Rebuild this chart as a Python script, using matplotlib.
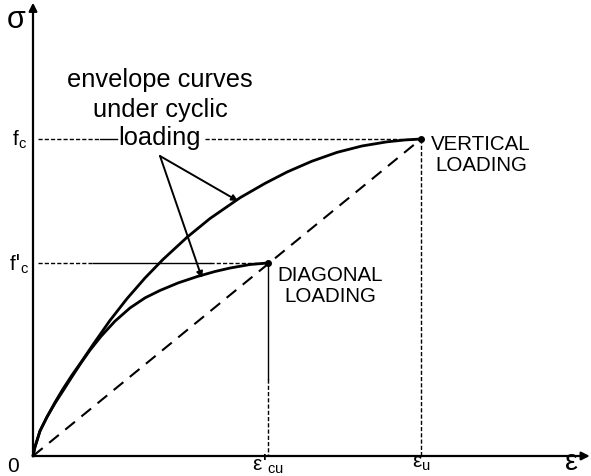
import matplotlib
matplotlib.use("Agg")
import matplotlib.pyplot as plt
import numpy as np

plt.rcParams['font.family'] = ['Liberation Sans', 'DejaVu Sans']

# characteristic values (normalised: eps_u = 1, f_c = 1)
eps_u = 1.0
eps_cu = 0.606
f_c = 1.0
f_cp = 0.609

# envelope curve, vertical loading
vert_eps = [0.0, 0.005, 0.018, 0.036, 0.057, 0.077, 0.101, 0.124, 0.155, 0.198, 0.242, 0.289,
            0.335, 0.397, 0.456, 0.534, 0.598, 0.655, 0.719, 0.784, 0.848, 0.912, 0.959, 1.0]
vert_sig = [0.0, 0.028, 0.079, 0.123, 0.170, 0.211, 0.256, 0.296, 0.352, 0.427, 0.496, 0.562,
            0.620, 0.690, 0.749, 0.815, 0.860, 0.896, 0.930, 0.958, 0.978, 0.991, 0.997, 1.0]
# envelope curve, diagonal loading
diag_eps = [0.0, 0.005, 0.018, 0.036, 0.057, 0.077, 0.101, 0.124, 0.147, 0.175, 0.211, 0.250,
            0.289, 0.327, 0.374, 0.423, 0.469, 0.508, 0.559, 0.606]
diag_sig = [0.0, 0.028, 0.079, 0.123, 0.167, 0.205, 0.251, 0.294, 0.334, 0.377, 0.425, 0.467,
            0.499, 0.522, 0.546, 0.566, 0.582, 0.593, 0.604, 0.609]

fig = plt.figure(figsize=(5.91, 4.77), dpi=100)
ax = fig.add_axes([0, 0, 1, 1])
ax.set_xlim(-33/388, (591-33)/388)
ax.set_ylim(-(477-457)/317, 457/317)
ax.axis('off')

k = 'black'
# axes with arrows
ax.annotate('', xy=(1.435, 0), xytext=(0, 0),
            arrowprops=dict(arrowstyle='-|>', color=k, lw=1.6, mutation_scale=12, shrinkA=0, shrinkB=0))
ax.annotate('', xy=(0, 1.43), xytext=(0, 0),
            arrowprops=dict(arrowstyle='-|>', color=k, lw=1.6, mutation_scale=12, shrinkA=0, shrinkB=0))

# curves
ax.plot(vert_eps, vert_sig, color=k, lw=2.0, solid_capstyle='round', solid_joinstyle='round')
ax.plot(diag_eps, diag_sig, color=k, lw=2.0, solid_capstyle='round', solid_joinstyle='round')
ax.plot([eps_u, eps_cu], [f_c, f_cp], 'o', color=k, ms=4)

# secant dashed line
ax.plot([0, eps_u], [0, f_c], color=k, lw=1.5, dashes=(6, 4))

# horizontal guide at f_c
x_txt_l = (100-33)/388
x_sol_e = (117-33)/388
x_txt_r = (205-33)/388
ax.plot([0.013, x_txt_l], [f_c, f_c], color=k, lw=1.0, dashes=(3, 1.5))
ax.plot([x_txt_l, x_sol_e], [f_c, f_c], color=k, lw=1.0)
ax.plot([x_txt_r, eps_u], [f_c, f_c], color=k, lw=1.0, dashes=(3, 1.5))
# horizontal guide at f'_c
x1 = (93-33)/388
x2 = (210-33)/388
ax.plot([0.013, x1], [f_cp, f_cp], color=k, lw=1.0, dashes=(3, 1.5))
ax.plot([x1, x2], [f_cp, f_cp], color=k, lw=1.0)
ax.plot([x2, eps_cu], [f_cp, f_cp], color=k, lw=1.0, dashes=(3, 1.5))
# vertical guides
y_sol = (457-380)/317
ax.plot([eps_cu, eps_cu], [f_cp, y_sol], color=k, lw=1.0)
ax.plot([eps_cu, eps_cu], [y_sol, 0], color=k, lw=1.0, dashes=(3, 1.5))
ax.plot([eps_u, eps_u], [f_c, 0], color=k, lw=1.0, dashes=(3, 1.5))

# annotation text
ax.text(0.327, (457-80)/317, 'envelope curves', ha='center', va='center', fontsize=18.3)
ax.text(0.327, (457-110)/317, 'under cyclic', ha='center', va='center', fontsize=18.3)
ax.text(0.327, (457-138)/317, 'loading', ha='center', va='center', fontsize=18.3)

apex = ((160-33)/388, (457-157)/317)
ax.annotate('', xy=((238-33)/388, (457-202)/317), xytext=apex,
            arrowprops=dict(arrowstyle='-|>', color=k, lw=1.4, mutation_scale=9, shrinkA=0, shrinkB=0))
ax.annotate('', xy=((202-33)/388, (457-279)/317), xytext=apex,
            arrowprops=dict(arrowstyle='-|>', color=k, lw=1.4, mutation_scale=9, shrinkA=0, shrinkB=0))

ax.text((481-33)/388, (457-155)/317, 'VERTICAL\nLOADING', ha='center', va='center',
        fontsize=14.8, linespacing=1.1)
ax.text((330-33)/388, (457-286)/317, 'DIAGONAL\nLOADING', ha='center', va='center',
        fontsize=14.8, linespacing=1.1)

# axis labels / ticks
ax.text((16-33)/388, (457-20)/317, 'σ', ha='center', va='center', fontsize=22)
ax.text((572-33)/388, (457-462)/317, 'ε', ha='center', va='center', fontsize=21)
ax.text((13-33)/388, (457-467)/317, '0', ha='center', va='center', fontsize=15)
ax.text((19-33)/388, f_c, r'f$_\mathregular{c}$', ha='center', va='center', fontsize=15)
ax.text((19-33)/388, f_cp, r"f$'_\mathregular{c}$", ha='center', va='center', fontsize=15)
ax.text(eps_cu, (457-464)/317, r"ε$'_\mathregular{cu}$", ha='center', va='center', fontsize=15)
ax.text(eps_u, (457-464)/317, r'ε$_\mathregular{u}$', ha='center', va='center', fontsize=15)

fig.savefig('out.png', dpi=100)
